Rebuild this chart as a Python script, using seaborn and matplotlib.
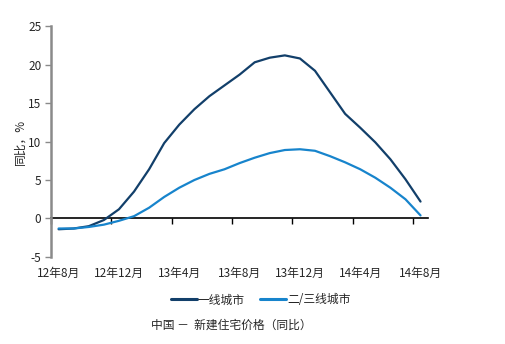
import matplotlib
matplotlib.use("Agg")
import matplotlib.pyplot as plt
import numpy as np
import pandas as pd
import seaborn as sns

# Monthly year-on-year change in new home prices, Aug 2012 – Aug 2014
months = ["12年8月", "12年9月", "12年10月", "12年11月", "12年12月", "13年1月", "13年2月",
          "13年3月", "13年4月", "13年5月", "13年6月", "13年7月", "13年8月", "13年9月",
          "13年10月", "13年11月", "13年12月", "14年1月", "14年2月", "14年3月", "14年4月",
          "14年5月", "14年6月", "14年7月", "14年8月"]
tier1 = [-1.4, -1.3, -1.0, -0.2, 1.2, 3.5, 6.4, 9.8, 12.2, 14.2, 15.9, 17.3, 18.7,
         20.3, 20.9, 21.2, 20.8, 19.2, 16.4, 13.6, 11.8, 9.9, 7.7, 5.1, 2.2]
tier23 = [-1.3, -1.3, -1.1, -0.8, -0.3, 0.3, 1.4, 2.8, 4.0, 5.0, 5.8, 6.4, 7.2,
          7.9, 8.5, 8.9, 9.0, 8.8, 8.1, 7.3, 6.4, 5.3, 4.0, 2.5, 0.4]
series_names = ["一线城市", "二/三线城市"]
y_ticks = [-5, 0, 5, 10, 15, 20, 25]

df = pd.DataFrame({
    "idx": list(range(len(months))) * 2,
    "value": tier1 + tier23,
    "series": [series_names[0]] * len(months) + [series_names[1]] * len(months),
})

sns.set_theme(style="white")
plt.rcParams["font.family"] = ["Noto Sans CJK SC", "DejaVu Sans"]
plt.rcParams["axes.unicode_minus"] = False

fig = plt.figure(figsize=(5.06, 3.44), dpi=100)
ax = fig.add_axes([0.101, 0.253, 0.745, 0.671])

palette = {series_names[0]: "#123f6a", series_names[1]: "#1784cc"}
sns.lineplot(data=df, x="idx", y="value", hue="series", palette=palette,
             linewidth=1.6, ax=ax, legend=False)

ax.set_xlim(-0.5, 24.5)
ax.set_ylim(-5, 25)
ax.set_xlabel("")
ax.set_ylabel("同比，%", fontsize=8.5, labelpad=1)

# y axis: grey spine with outward ticks
ax.set_yticks(y_ticks)
ax.set_yticklabels([str(v) for v in y_ticks], fontsize=8.5)
ax.spines["left"].set_color("#8a8a8a")
ax.spines["left"].set_linewidth(1.8)
ax.tick_params(axis="y", direction="out", length=4, width=1, color="#8a8a8a", pad=3, left=True)
for s in ["top", "right", "bottom"]:
    ax.spines[s].set_visible(False)

# category labels at the bottom, every four months
label_pos = list(range(0, len(months), 4))
ax.set_xticks(label_pos)
ax.set_xticklabels([months[i] for i in label_pos], fontsize=8.5)
ax.tick_params(axis="x", length=0, pad=7)

# zero line carrying the tick marks between categories
zero_axis = ax.secondary_xaxis(5 / 30)
zero_axis.set_xticks([p - 0.5 for p in label_pos])
zero_axis.set_xticklabels([])
zero_axis.tick_params(axis="x", direction="out", length=4, width=1, color="black")
zero_axis.spines["bottom"].set_color("black")
zero_axis.spines["bottom"].set_linewidth(1.2)
zero_axis.spines["bottom"].set_bounds(-0.5, 24.5)

handles = [plt.Line2D([], [], color=palette[n], linewidth=2.2) for n in series_names]
fig.legend(handles, series_names, loc="center", bbox_to_anchor=(0.515, 0.128), ncol=2,
           frameon=False, fontsize=8.5, handlelength=2.2, handletextpad=0.1,
           columnspacing=1.3)

fig.text(0.457, 0.055, "中国 －  新建住宅价格（同比）", ha="center", va="center", fontsize=8.5)

fig.savefig("out.png", dpi=100, facecolor="white")
